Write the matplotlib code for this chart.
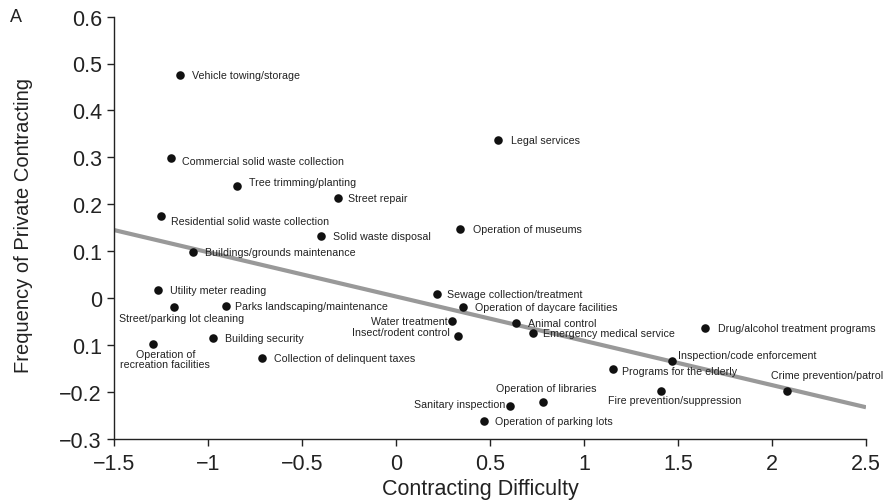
# coding=utf-8
import numpy as np
import matplotlib
matplotlib.use('Agg')
import matplotlib.pyplot as plt

plt.rcParams['font.family'] = ['Liberation Sans', 'DejaVu Sans']

# data
services = ['Vehicle towing/storage', 'Commercial solid waste collection', 'Tree trimming/planting',
            'Street repair', 'Residential solid waste collection', 'Solid waste disposal',
            'Buildings/grounds maintenance', 'Legal services', 'Operation of museums',
            'Utility meter reading', 'Street/parking lot cleaning', 'Parks landscaping/maintenance',
            'Operation of\nrecreation facilities', 'Building security', 'Collection of delinquent taxes',
            'Sewage collection/treatment', 'Operation of daycare facilities', 'Water treatment',
            'Insect/rodent control', 'Animal control', 'Emergency medical service',
            'Drug/alcohol treatment programs', 'Inspection/code enforcement', 'Programs for the elderly',
            'Fire prevention/suppression', 'Crime prevention/patrol', 'Operation of libraries',
            'Sanitary inspection', 'Operation of parking lots']
difficulty = [-1.150, -1.196, -0.842, -0.305, -1.248, -0.399, -1.079, 0.544, 0.342,
              -1.262, -1.182, -0.904, -1.289, -0.970, -0.712, 0.221, 0.356, 0.301,
              0.333, 0.640, 0.728, 1.644, 1.467, 1.157, 1.409, 2.082, 0.781, 0.608, 0.469]
frequency = [0.476, 0.299, 0.239, 0.213, 0.175, 0.132, 0.099, 0.337, 0.147,
             0.017, -0.020, -0.018, -0.098, -0.086, -0.128, 0.009, -0.020, -0.048,
             -0.082, -0.053, -0.075, -0.065, -0.135, -0.151, -0.198, -0.199, -0.221, -0.230, -0.262]

# fitted line
fit_intercept = 0.0033
fit_slope = -0.0945

xticks = [-1.5, -1, -0.5, 0, 0.5, 1, 1.5, 2, 2.5]
xticklabels = ['\u22121.5', '\u22121', '\u22120.5', '0', '0.5', '1', '1.5', '2', '2.5']
yticks = [0.6, 0.5, 0.4, 0.3, 0.2, 0.1, 0, -0.1, -0.2, -0.3]
yticklabels = ['0.6', '0.5', '0.4', '0.3', '0.2', '0.1', '0', '0.1', '\u22120.2', '\u22120.3']

# label placement: offset in pixels (dx, dy) and horizontal alignment
default_place = (12, 0, 'left')
special_place = {
    'Vehicle towing/storage': (12.7, 0, 'left'),
    'Commercial solid waste collection': (11, -3, 'left'),
    'Tree trimming/planting': (12, 4, 'left'),
    'Street repair': (9.5, 0, 'left'),
    'Residential solid waste collection': (9.7, -5, 'left'),
    'Legal services': (12.7, 0, 'left'),
    'Operation of museums': (12.7, 0, 'left'),
    'Street/parking lot cleaning': (8.4, -10.7, 'center'),
    'Parks landscaping/maintenance': (9.3, 0, 'left'),
    'Operation of\nrecreation facilities': (12, -15, 'center'),
    'Sewage collection/treatment': (9.4, 0, 'left'),
    'Water treatment': (-4.3, 0, 'right'),
    'Insect/rodent control': (-8.3, 4, 'right'),
    'Emergency medical service': (10.3, 0, 'left'),
    'Drug/alcohol treatment programs': (13.3, 0, 'left'),
    'Inspection/code enforcement': (6.3, 6.6, 'left'),
    'Programs for the elderly': (8.4, -2, 'left'),
    'Fire prevention/suppression': (14, -9, 'center'),
    'Crime prevention/patrol': (40, 16.6, 'center'),
    'Operation of libraries': (3.3, 13.4, 'center'),
    'Sanitary inspection': (-5, 1.7, 'right'),
    'Operation of parking lots': (11, 0, 'left'),
}

fig = plt.figure(figsize=(8.85, 5.02), dpi=100)
ax = fig.add_axes([113.7/885, 1-439.7/502, (866-113.7)/885, (439.7-17.6)/502])

xs = np.array([-1.5, 2.5])
ax.plot(xs, fit_intercept+fit_slope*xs, color='#999999', linewidth=3, solid_capstyle='butt', zorder=1)
ax.scatter(difficulty, frequency, s=38, color='#111111', zorder=3, linewidths=0)

px2pt = 72.0/fig.dpi
for name, x, y in zip(services, difficulty, frequency):
    dx, dy, ha = special_place.get(name, default_place)
    ax.annotate(name, (x, y), xytext=(dx*px2pt, dy*px2pt), textcoords='offset points',
                ha=ha, va='center', fontsize=7.7, color='#222222', zorder=4,
                multialignment='center', linespacing=1.0)

ax.set_xlim(-1.5, 2.5)
ax.set_ylim(-0.3, 0.6)
ax.set_xticks(xticks)
ax.set_xticklabels(xticklabels)
ax.set_yticks(yticks)
ax.set_yticklabels(yticklabels)
ax.tick_params(direction='out', length=5, width=1, labelsize=15.5, colors='#222222')
ax.tick_params(axis='x', pad=5)
ax.spines['top'].set_visible(False)
ax.spines['right'].set_visible(False)
for s in ['left', 'bottom']:
    ax.spines[s].set_linewidth(1)
    ax.spines[s].set_color('#222222')
ax.set_xlabel('Contracting Difficulty', fontsize=15.5, color='#222222', va='center')
ax.set_ylabel('Frequency of Private Contracting', fontsize=14.5, color='#222222', va='center')
ax.xaxis.set_label_coords(0.487, -0.119)
ax.yaxis.set_label_coords(-0.12, 0.508)

fig.text(10/885, 1-18/502, 'A', fontsize=13, va='center', ha='left', color='#222222')

plt.savefig('out.png', dpi=100)
plt.close()
